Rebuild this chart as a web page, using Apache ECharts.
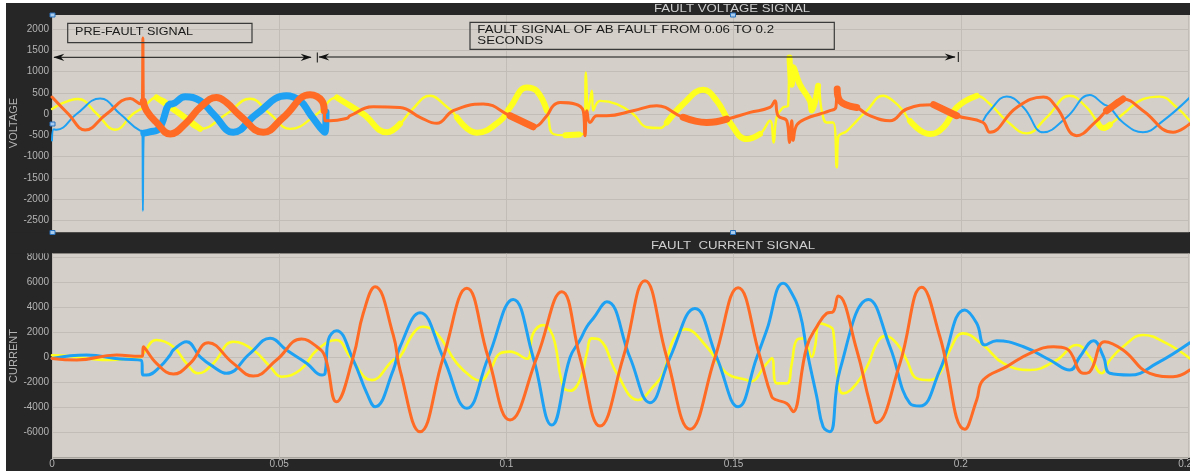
<!DOCTYPE html>
<html>
<head>
<meta charset="utf-8">
<script src="https://cdn.jsdelivr.net/npm/echarts@6/dist/echarts.min.js"></script>
<style>
html,body{margin:0;padding:0;background:#ffffff;}
#chart{width:1190px;height:473px;}
</style>
</head>
<body>
<div id="chart"></div>
<script>
// ---------------- DATA ----------------
const timeTicks = [0, 0.05, 0.1, 0.15, 0.2, 0.25];
const voltageTicks = [-2500, -2000, -1500, -1000, -500, 0, 500, 1000, 1500, 2000];
const currentTicks = [-6000, -4000, -2000, 0, 2000, 4000, 6000, 8000];

// Voltage, phase A (yellow)
const voltageA = [[0,120],[0.0057,355],[0.0099,0],[0.0139,-370],[0.0178,0],[0.0200,150],[0.0230,390],[0.0282,0],[0.0326,-350],[0.0384,0],[0.0436,360],[0.0480,0],[0.0524,-350],[0.0583,0],[0.0627,390],[0.0649,240],[0.0685,0],[0.0737,-430],[0.0766,-230],[0.0792,100],[0.0832,430],[0.0870,160],[0.0883,40],[0.0891,-80],[0.0935,-440],[0.0986,-160],[0.1008,155],[0.1045,625],[0.1067,540],[0.1089,80],[0.1103,-470],[0.1130,-500],[0.1160,-480],[0.1172,-450],[0.1175,980],[0.1180,80],[0.1188,550],[0.1191,80],[0.1206,310],[0.1243,235],[0.1279,0],[0.1309,-310],[0.1338,-330],[0.1353,-200],[0.1389,235],[0.1433,570],[0.1463,310],[0.1492,-200],[0.1529,-590],[0.1558,-470],[0.1580,-160],[0.1588,-670],[0.1595,-70],[0.1609,155],[0.1620,200],[0.1623,1330],[0.1628,690],[0.1631,1100],[0.1646,690],[0.1668,310],[0.1672,80],[0.1686,665],[0.1694,80],[0.1705,-200],[0.1719,-200],[0.1727,-1255],[0.1730,-550],[0.1749,-400],[0.1771,-160],[0.1793,78],[0.1829,430],[0.1851,310],[0.1873,78],[0.1888,-160],[0.1932,-470],[0.1962,-310],[0.1991,155],[0.2035,430],[0.2064,235],[0.2101,-160],[0.2145,-455],[0.2189,-78],[0.2240,430],[0.2277,155],[0.2299,-160],[0.2314,-330],[0.2328,-250],[0.2357,0],[0.2401,350],[0.2438,410],[0.2475,155],[0.2504,-160]];

// Voltage, phase B (blue) - hidden under phase C during the AB fault
const voltageB = [[0,-620],[0.0004,-360],[0.0010,-370],[0.0054,0],[0.0106,367],[0.0150,0],[0.0194,-390],[0.0199,-400],[0.0200,-2280],[0.0202,-450],[0.0215,-420],[0.0235,-350],[0.0260,235],[0.0265,240],[0.0293,405],[0.0326,310],[0.0355,0],[0.0399,-430],[0.0450,0],[0.0516,430],[0.0546,310],[0.0568,0],[0.0590,-315],[0.0601,-430],[0.0603,50],[0.13,null],[0.2049,-160],[0.2064,78],[0.2101,415],[0.2138,155],[0.2182,-430],[0.2233,-78],[0.2284,445],[0.2314,235],[0.2328,155],[0.2357,-200],[0.2401,-430],[0.2445,-160],[0.2504,390]];

// Voltage, phase C (orange)
const voltageC = [[0,400],[0.0036,0],[0.0073,-376],[0.0120,0],[0.0172,367],[0.0197,235],[0.0199,250],[0.0200,1790],[0.0201,300],[0.0208,78],[0.0230,-200],[0.0260,-470],[0.0296,-200],[0.0326,155],[0.0362,390],[0.0384,270],[0.0414,-40],[0.0465,-430],[0.0509,-80],[0.0568,455],[0.0594,310],[0.0599,78],[0.0601,-160],[0.0612,-160],[0.0649,-100],[0.0656,-40],[0.0707,170],[0.0766,155],[0.0810,-78],[0.0847,-220],[0.0883,78],[0.0949,235],[0.1008,-40],[0.1059,-300],[0.1089,-40],[0.1103,195],[0.1118,270],[0.1169,78],[0.1173,-510],[0.1177,78],[0.1184,-200],[0.1199,-40],[0.1221,-40],[0.1279,78],[0.1331,195],[0.1389,-78],[0.1441,-200],[0.1485,-120],[0.1536,38],[0.1580,155],[0.1591,310],[0.1598,-40],[0.1617,-160],[0.1623,-670],[0.1628,-160],[0.1631,-620],[0.1639,-260],[0.1661,-100],[0.1690,0],[0.1712,78],[0.1725,155],[0.1728,590],[0.1734,310],[0.1771,155],[0.1800,-40],[0.1844,-160],[0.1881,118],[0.1940,220],[0.1991,-40],[0.2049,-200],[0.2064,-430],[0.2123,155],[0.2182,400],[0.2211,155],[0.2255,-510],[0.2299,-160],[0.2321,78],[0.2357,353],[0.2401,78],[0.2467,-430],[0.2504,-230]];

// Stretches where the voltage traces show a dense high-frequency band
const voltageABand = [[0.0205,0.0340],[0.0600,0.0770],[0.0890,0.0990],[0.0990,0.1100],[0.1110,0.1165],[0.1350,0.1560],[0.1623,0.1690],[0.1880,0.2050],[0.2290,0.2340]];
const voltageBBand = [[0.0202,0.0603],[0.2270,0.2310]];
const voltageCBand = [[0.0201,0.0600],[0.1008,0.1075],[0.1389,0.1500],[0.1728,0.1775],[0.1930,0.1995],[0.2240,0.2275],[0.2320,0.2365]];

// Current, phase A (yellow)
const currentA = [[0,180],[0.0025,150],[0.0076,-70],[0.0128,-200],[0.0179,-40],[0.0197,50],[0.0201,330],[0.0230,1400],[0.0267,860],[0.0296,-470],[0.0322,-1260],[0.0355,-470],[0.0399,1260],[0.0443,600],[0.0480,-730],[0.0505,-1530],[0.0546,-1000],[0.0583,600],[0.0626,1400],[0.0656,60],[0.0704,-1800],[0.0751,-200],[0.0766,60],[0.0795,1930],[0.0817,2460],[0.0847,1930],[0.0891,-470],[0.0927,-1660],[0.0942,-1850],[0.0964,-1000],[0.0986,330],[0.1008,470],[0.1045,-100],[0.1059,1930],[0.1081,2590],[0.1096,2190],[0.1107,1130],[0.1125,-2330],[0.1140,-2650],[0.1162,-1800],[0.1177,330],[0.1188,1530],[0.1206,1400],[0.1243,-1260],[0.1290,-3390],[0.1323,-2330],[0.1345,-1260],[0.1367,1400],[0.1393,2270],[0.1441,860],[0.1485,-1260],[0.1529,-1800],[0.1536,-1930],[0.1573,-470],[0.1584,-70],[0.1595,-2060],[0.1617,-2060],[0.1628,-470],[0.1639,1400],[0.1654,1530],[0.1672,60],[0.1679,860],[0.1690,2730],[0.1712,2460],[0.1719,2190],[0.1730,-2060],[0.1741,-2860],[0.1771,-2060],[0.1797,-470],[0.1815,1130],[0.1833,1720],[0.1859,1130],[0.1881,-200],[0.1903,-1660],[0.1932,-1800],[0.1954,-1260],[0.1976,600],[0.2005,1930],[0.2049,1000],[0.2094,-470],[0.2152,-1000],[0.2211,-200],[0.2255,1000],[0.2284,60],[0.2310,-1260],[0.2328,-200],[0.2357,860],[0.2401,1800],[0.2453,1130],[0.2504,-70]];

// Current, phase B (blue)
const currentB = [[0,-70],[0.0076,200],[0.0150,-120],[0.0197,-250],[0.0200,-1400],[0.0208,-1400],[0.0238,-730],[0.0260,200],[0.0267,600],[0.0296,1260],[0.0326,60],[0.0355,-730],[0.0384,-1260],[0.0436,330],[0.0480,1530],[0.0516,600],[0.0561,-470],[0.0594,-1400],[0.0601,-1260],[0.0608,1400],[0.0626,2140],[0.0663,-200],[0.0693,-2860],[0.0711,-3930],[0.0751,-1000],[0.0766,860],[0.0810,3580],[0.0861,0],[0.0913,-4050],[0.0960,0],[0.1015,4640],[0.1059,0],[0.1100,-5390],[0.1140,0],[0.1162,1400],[0.1177,2460],[0.1191,3120],[0.1221,4450],[0.1272,0],[0.1316,-3600],[0.1360,0],[0.1415,3920],[0.1463,0],[0.1510,-3930],[0.1551,0],[0.1573,2190],[0.1609,5920],[0.1624,5390],[0.1646,3530],[0.1661,600],[0.1683,-3130],[0.1697,-5520],[0.1712,-5920],[0.1734,-1000],[0.1797,4640],[0.1844,860],[0.1888,-3660],[0.1910,-3870],[0.1954,-1000],[0.2009,3790],[0.2035,2730],[0.2053,1000],[0.2079,1340],[0.2138,860],[0.2196,-200],[0.2240,-1000],[0.2262,60],[0.2292,1340],[0.2314,60],[0.2328,-1260],[0.2372,-1400],[0.2431,-470],[0.2504,1180]];

// Current, phase C (orange)
const currentC = [[0,-70],[0.0054,-200],[0.0142,200],[0.0194,100],[0.0199,100],[0.0201,860],[0.0230,-470],[0.0267,-1320],[0.0304,-470],[0.0344,1180],[0.0399,-470],[0.0443,-1480],[0.0494,-200],[0.0549,1480],[0.0583,860],[0.0601,60],[0.0626,-3530],[0.0663,60],[0.0685,3530],[0.0711,5650],[0.0751,1800],[0.0766,-1000],[0.0810,-5920],[0.0861,0],[0.0913,5520],[0.0960,0],[0.1008,-4990],[0.1067,0],[0.1122,5250],[0.1162,0],[0.1206,-5470],[0.1257,0],[0.1305,6130],[0.1353,0],[0.1404,-5730],[0.1459,0],[0.1510,5570],[0.1558,60],[0.1584,-3130],[0.1595,-3390],[0.1617,-3660],[0.1628,-4190],[0.1631,-4320],[0.1661,860],[0.1683,2460],[0.1705,3530],[0.1719,3660],[0.1730,4910],[0.1771,600],[0.1800,-3660],[0.1815,-5200],[0.1866,-470],[0.1914,5600],[0.1954,1660],[0.2009,-5730],[0.2035,-3390],[0.2049,-1800],[0.2101,-730],[0.2152,330],[0.2204,860],[0.2233,700],[0.2270,-1260],[0.2284,-1130],[0.2317,1260],[0.2357,600],[0.2416,-1260],[0.2467,-1530],[0.2504,-1000]];

const panelTitles = ['FAULT VOLTAGE SIGNAL', 'FAULT  CURRENT SIGNAL'];
const axisNames = ['VOLTAGE', 'CURRENT'];
const noteTexts = ['PRE-FAULT SIGNAL', 'FAULT SIGNAL OF AB FAULT FROM 0.06 TO 0.2', 'SECONDS'];

// ---------------- STYLE ----------------
const YELLOW = '#ffff1e', BLUE = '#1ea1f3', ORANGE = '#ff6a24';
const BG = '#d4d0c9', FRAME = '#262626', GRIDC = '#c2beb7', LABEL = '#b4b4b4';
const FONT = '"Liberation Sans", Arial, sans-serif';

function bandOnly(data, ranges) {
  const out = [];
  let lastIn = false;
  data.forEach(p => {
    const inside = p[1] !== null && ranges.some(r => p[0] >= r[0] && p[0] <= r[1]);
    if (inside) { out.push(p); lastIn = true; }
    else if (lastIn) { out.push([p[0], null]); lastIn = false; }
  });
  return out;
}

function lineSeries(name, data, color, width, gi) {
  return {
    name, type: 'line', data, xAxisIndex: gi, yAxisIndex: gi,
    showSymbol: false, symbol: 'none', smooth: 0.45,
    connectNulls: false, silent: true, animation: false,
    lineStyle: { color, width, cap: 'round', join: 'round' }
  };
}

const vStep = voltageTicks[1] - voltageTicks[0];
const cStep = currentTicks[1] - currentTicks[0];
const tStep = timeTicks[1] - timeTicks[0];

function xAxisCfg(gi, showLabels) {
  return {
    type: 'value', gridIndex: gi, min: timeTicks[0], max: timeTicks[timeTicks.length - 1], interval: tStep,
    axisLine: { show: false }, axisTick: { show: false },
    splitLine: { show: true, lineStyle: { color: GRIDC, width: 1 } },
    axisLabel: { show: showLabels, color: LABEL, fontSize: 10, fontFamily: FONT, margin: 1,
      hideOverlap: false, showMaxLabel: true,
      formatter: v => String(+v.toFixed(3)) }
  };
}
function yAxisCfg(gi, ticks, step) {
  return {
    type: 'value', gridIndex: gi, min: ticks[0] - step, max: ticks[ticks.length - 1] + step, interval: step,
    axisLine: { show: false }, axisTick: { show: false },
    splitLine: { show: true, lineStyle: { color: GRIDC, width: 1 } },
    axisLabel: { color: LABEL, fontSize: 10, fontFamily: FONT, margin: 3,
      formatter: v => ticks.indexOf(v) >= 0 ? String(v) : '' }
  };
}

function arrowHead(tx, ty, dir) {
  return { type: 'polygon', z: 60, silent: true,
    shape: { points: [[tx, ty], [tx - dir * 11, ty - 3.6], [tx - dir * 7.5, ty], [tx - dir * 11, ty + 3.6]] },
    style: { fill: '#111' } };
}
function handle(x, y) {
  return { type: 'rect', z: 70, silent: true, shape: { x: x - 2.5, y: y - 2, width: 5, height: 4 },
    style: { fill: '#a8cdef', stroke: '#2b73bd', lineWidth: 1 } };
}

const graphics = [
  { type: 'rect', z: -10, silent: true, shape: { x: 52, y: 15, width: 1138, height: 217.3 }, style: { fill: BG } },
  { type: 'rect', z: -10, silent: true, shape: { x: 52, y: 253.3, width: 1138, height: 204.4 }, style: { fill: BG } },
  { type: 'rect', z: 50, silent: true, shape: { x: 6, y: 3, width: 1184, height: 12 }, style: { fill: FRAME } },
  { type: 'rect', z: 50, silent: true, shape: { x: 6, y: 232.3, width: 1184, height: 21 }, style: { fill: FRAME } },
  { type: 'rect', z: 100, silent: true, shape: { x: 0, y: 0, width: 1190, height: 3 }, style: { fill: '#fff' } },
  { type: 'rect', z: 100, silent: true, shape: { x: 0, y: 0, width: 6, height: 473 }, style: { fill: '#fff' } },
  { type: 'rect', z: 100, silent: true, shape: { x: 0, y: 471, width: 1190, height: 2 }, style: { fill: '#fff' } },
  { type: 'text', z: 60, silent: true, x: 732, y: 9.5, scaleX: 1.32,
    style: { text: panelTitles[0], fill: '#cfcfcf', fontSize: 10, fontFamily: FONT, align: 'center', verticalAlign: 'middle' } },
  { type: 'text', z: 60, silent: true, x: 733, y: 246, scaleX: 1.32,
    style: { text: panelTitles[1], fill: '#cfcfcf', fontSize: 10, fontFamily: FONT, align: 'center', verticalAlign: 'middle' } },
  { type: 'text', z: 60, silent: true, x: 14, y: 123, rotation: Math.PI / 2,
    style: { text: axisNames[0], fill: LABEL, fontSize: 11, fontFamily: '"Liberation Sans Narrow", "Liberation Sans", sans-serif', align: 'center', verticalAlign: 'middle' } },
  { type: 'text', z: 60, silent: true, x: 14, y: 356, rotation: Math.PI / 2,
    style: { text: axisNames[1], fill: LABEL, fontSize: 11, fontFamily: '"Liberation Sans Narrow", "Liberation Sans", sans-serif', align: 'center', verticalAlign: 'middle' } },
  { type: 'rect', z: 60, silent: true, shape: { x: 67.7, y: 23.3, width: 184.3, height: 19.4 },
    style: { fill: 'none', stroke: '#3a3a3a', lineWidth: 1.2 } },
  { type: 'text', z: 60, silent: true, x: 75, y: 32, scaleX: 1.26,
    style: { text: noteTexts[0], fill: '#1a1a1a', fontSize: 10, fontFamily: FONT, align: 'left', verticalAlign: 'middle' } },
  { type: 'rect', z: 60, silent: true, shape: { x: 470, y: 22.3, width: 364.3, height: 27 },
    style: { fill: 'none', stroke: '#3a3a3a', lineWidth: 1.2 } },
  { type: 'text', z: 60, silent: true, x: 477.3, y: 30.5, scaleX: 1.29,
    style: { text: noteTexts[1], fill: '#1a1a1a', fontSize: 10.3, fontFamily: FONT, align: 'left', verticalAlign: 'middle' } },
  { type: 'text', z: 60, silent: true, x: 477.3, y: 41.3, scaleX: 1.29,
    style: { text: noteTexts[2], fill: '#1a1a1a', fontSize: 10.3, fontFamily: FONT, align: 'left', verticalAlign: 'middle' } },
  { type: 'line', z: 60, silent: true, shape: { x1: 54, y1: 57.3, x2: 311, y2: 57.3 }, style: { stroke: '#111', lineWidth: 1 } },
  arrowHead(53.3, 57.3, -1), arrowHead(311.7, 57.3, 1),
  { type: 'line', z: 60, silent: true, shape: { x1: 317.3, y1: 52.5, x2: 317.3, y2: 62.5 }, style: { stroke: '#111', lineWidth: 1 } },
  { type: 'line', z: 60, silent: true, shape: { x1: 319, y1: 57, x2: 955, y2: 57 }, style: { stroke: '#111', lineWidth: 1 } },
  arrowHead(318.3, 57, -1), arrowHead(955.7, 57, 1),
  { type: 'line', z: 60, silent: true, shape: { x1: 958.3, y1: 52, x2: 958.3, y2: 62 }, style: { stroke: '#111', lineWidth: 1 } },
  handle(52.5, 15), handle(52.5, 124), handle(52.5, 232.5), handle(733, 15), handle(733, 232.5)
];

const chart = echarts.init(document.getElementById('chart'), null, { renderer: 'canvas', width: 1190, height: 473 });
chart.setOption({
  backgroundColor: FRAME,
  animation: false,
  grid: [
    { left: 52, right: 2, top: 7.74, height: 233.82, containLabel: false, outerBoundsMode: 'none' },
    { left: 52, right: 2, top: 232.24, height: 225.52, containLabel: false, outerBoundsMode: 'none' }
  ],
  xAxis: [xAxisCfg(0, false), xAxisCfg(1, true)],
  yAxis: [yAxisCfg(0, voltageTicks, vStep), yAxisCfg(1, currentTicks, cStep)],
  series: [
    lineSeries('Va', voltageA, YELLOW, 2.4, 0),
    lineSeries('Va band', bandOnly(voltageA, voltageABand), YELLOW, 6, 0),
    lineSeries('Vb', voltageB, BLUE, 2, 0),
    lineSeries('Vb band', bandOnly(voltageB, voltageBBand), BLUE, 7, 0),
    lineSeries('Vc', voltageC, ORANGE, 3, 0),
    lineSeries('Vc band', bandOnly(voltageC, voltageCBand), ORANGE, 7, 0),
    lineSeries('Ia', currentA, YELLOW, 2.6, 1),
    lineSeries('Ib', currentB, BLUE, 3, 1),
    lineSeries('Ic', currentC, ORANGE, 3, 1)
  ],
  graphic: { elements: graphics }
});
</script>
</body>
</html>
